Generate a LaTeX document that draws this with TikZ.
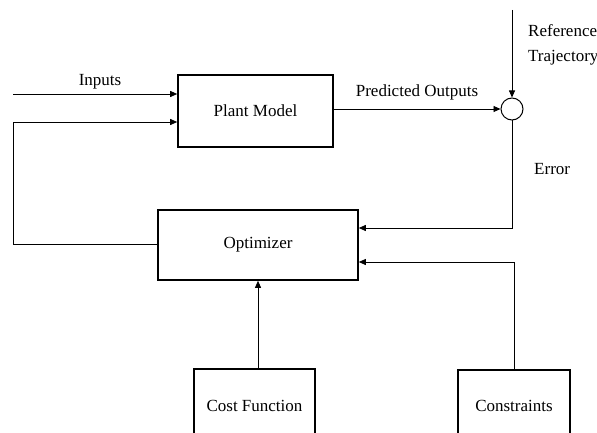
\documentclass[tikz,border=0pt]{standalone}
\usepackage{fontspec}
\setmainfont{Liberation Serif}
\usetikzlibrary{arrows.meta}
\begin{document}
\begin{tikzpicture}[x=1pt,y=-1pt,
  font=\fontsize{17}{20}\selectfont,
  block/.style={draw, line width=1.6pt, inner sep=0pt, align=center},
  conn/.style={line width=0.8pt, -{Triangle[length=7pt,width=6pt]}},
  wire/.style={line width=0.8pt},
  lbl/.style={inner sep=0pt, anchor=base}]
\useasboundingbox (0,0) rectangle (597,433);
\clip (0,0) rectangle (597,433);

% blocks
\node[block, minimum width=155pt, minimum height=72pt] (plant) at (255.5,111) {Plant Model};
\node[block, minimum width=200pt, minimum height=70pt] (opt) at (258,245) {Optimizer};
\node[block, minimum width=121pt, minimum height=80pt] (cost) at (254.5,409) {};
\node[block, minimum width=112pt, minimum height=80pt] (cons) at (514,410) {};
\node[lbl] (costtxt) at (254.5,411) {Cost Function};
\node[lbl] (constxt) at (514,411) {Constraints};

% summing junction
\node[draw, circle, line width=1pt, minimum size=22pt, inner sep=0pt] (sum) at (512,109) {};

% free ends
\coordinate (inL) at (13,94);
\coordinate (fbL) at (13,122);
\coordinate (refT) at (512,10);

% inputs and feedback into the plant model
\draw[conn] (inL) -- (inL -| plant.west);
\draw[conn] (opt.west |- 0,244) -| (fbL) -- (fbL -| plant.west);

% predicted outputs and reference
\draw[conn] (plant.east |- sum) -- (sum.west);
\draw[conn] (refT) -- (sum.north);

% error and constraints into the optimizer
\draw[conn] (sum.south) |- (opt.east |- 0,228);
\draw[conn] (cons.north) |- (opt.east |- 0,262);

% cost function into the optimizer
\draw[conn] (cost.north -| 258,0) -- (opt.south -| 258,0);

% labels
\node[lbl] (tin) at (100,86) {Inputs};
\node[lbl] (tpo) at (417,97) {Predicted Outputs};
\node[lbl, anchor=base west] (tref1) at (528,37) {Reference};
\node[lbl, anchor=base west] (tref2) at (528,62) {Trajectory};
\node[lbl, anchor=base west] (terr) at (534,175) {Error};
\end{tikzpicture}
\end{document}
